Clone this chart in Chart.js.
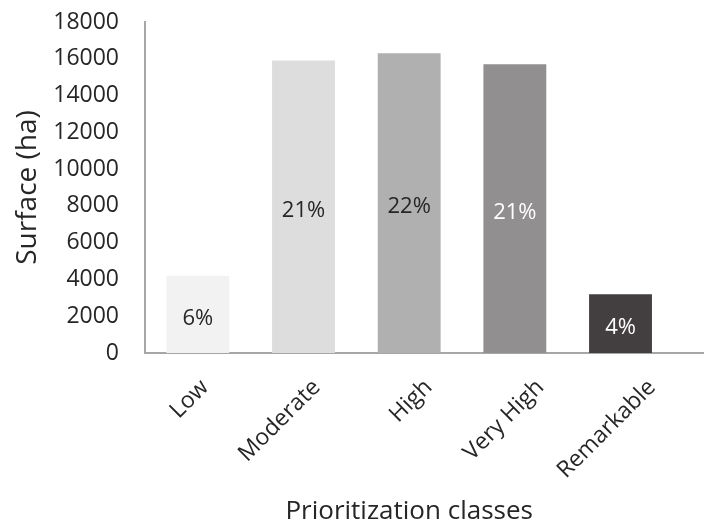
<!DOCTYPE html>
<html>
<head>
<meta charset="utf-8">
<script src="https://cdn.jsdelivr.net/npm/chart.js@4/dist/chart.umd.min.js"></script>
<style>
  html, body { margin: 0; padding: 0; background: #fff; }
  #wrap { width: 704px; height: 530px; }
</style>
</head>
<body>
<div id="wrap"><canvas id="surfaceChart" width="704" height="530"></canvas></div>
<script>
// Surface per prioritization class
const classes = ["Low", "Moderate", "High", "Very High", "Remarkable"];
const surfaceHa = [4200, 15900, 16300, 15700, 3200];
const sharePct = [6, 21, 22, 21, 4];
const barColors = ["#f2f2f2", "#dddddd", "#b0b0b0", "#918f90", "#433f40"];
const labelColors = ["#262626", "#262626", "#262626", "#ffffff", "#ffffff"];
const xTitle = "Prioritization classes";

const fontFamily = "'Open Sans', 'Liberation Sans', sans-serif";
const axisColor = "#a6a6a6";
const textColor = "#262626";

// bars sit on their own index axis, a little tighter than the label axis
const barPoints = surfaceHa.map((v, i) => ({ x: i, y: v }));

// percentage labels in the middle of each bar
const shareLabels = {
    id: "shareLabels",
    afterDatasetsDraw(chart) {
        const { ctx } = chart;
        const meta = chart.getDatasetMeta(0);
        ctx.save();
        ctx.font = "22px " + fontFamily;
        ctx.textAlign = "center";
        ctx.textBaseline = "middle";
        meta.data.forEach((bar, i) => {
            const midY = (bar.y + bar.base) / 2;
            ctx.fillStyle = labelColors[i];
            ctx.fillText(sharePct[i] + "%", bar.x, midY + 4);
        });
        ctx.restore();
    },
};

// x title centred under the bar group rather than the whole axis
const barAxisTitle = {
    id: "barAxisTitle",
    afterDraw(chart) {
        const { ctx } = chart;
        const xb = chart.scales.xb;
        const cx = (xb.getPixelForValue(-0.5) + xb.getPixelForValue(classes.length - 0.5)) / 2;
        ctx.save();
        ctx.font = "26px " + fontFamily;
        ctx.fillStyle = textColor;
        ctx.textAlign = "center";
        ctx.textBaseline = "middle";
        ctx.fillText(xTitle, cx, chart.height - 3 - 26 * 1.2 / 2);
        ctx.restore();
    },
};

const ctx = document.getElementById("surfaceChart").getContext("2d");
new Chart(ctx, {
    type: "bar",
    data: {
        labels: classes,
        datasets: [
            {
                label: "Surface (ha)",
                data: barPoints,
                xAxisID: "xb",
                backgroundColor: barColors,
                categoryPercentage: 1,
                barPercentage: 0.595,
            },
        ],
    },
    options: {
        responsive: false,
        animation: false,
        layout: { padding: { top: 22, right: 0, left: 0, bottom: 0 } },
        plugins: {
            legend: { display: false },
            tooltip: { enabled: false },
        },
        scales: {
            x: {
                type: "category",
                offset: true,
                grid: { display: false, drawTicks: false },
                border: { color: axisColor, width: 2 },
                ticks: {
                    autoSkip: false,
                    minRotation: 45,
                    maxRotation: 45,
                    padding: 21,
                    labelOffset: 4,
                    color: textColor,
                    font: { family: fontFamily, size: 23 },
                },
                title: { display: false },
                afterFit(scale) {
                    scale.height = 177;
                    scale.paddingLeft = 0;
                    scale.paddingRight = 0;
                },
            },
            xb: {
                type: "linear",
                display: false,
                offset: false,
                grid: { offset: false },
                min: -0.5,
                max: 4.79,
                afterBuildTicks(scale) {
                    scale.ticks = scale.ticks.filter((t) => Number.isInteger(t.value));
                },
            },
            y: {
                min: 0,
                max: 18000,
                grid: { display: false, drawTicks: false },
                border: { color: axisColor, width: 2 },
                ticks: {
                    stepSize: 2000,
                    padding: 26,
                    color: textColor,
                    font: { family: fontFamily, size: 23 },
                    callback: (value) => String(value),
                },
                title: {
                    display: true,
                    text: "Surface (ha)",
                    color: textColor,
                    font: { family: fontFamily, size: 28 },
                    padding: { top: 11, bottom: 0 },
                },
                afterFit(scale) {
                    scale.width = 145;
                    scale.paddingTop = 0;
                    scale.paddingBottom = 0;
                },
            },
        },
    },
    plugins: [shareLabels, barAxisTitle],
});
</script>
</body>
</html>
